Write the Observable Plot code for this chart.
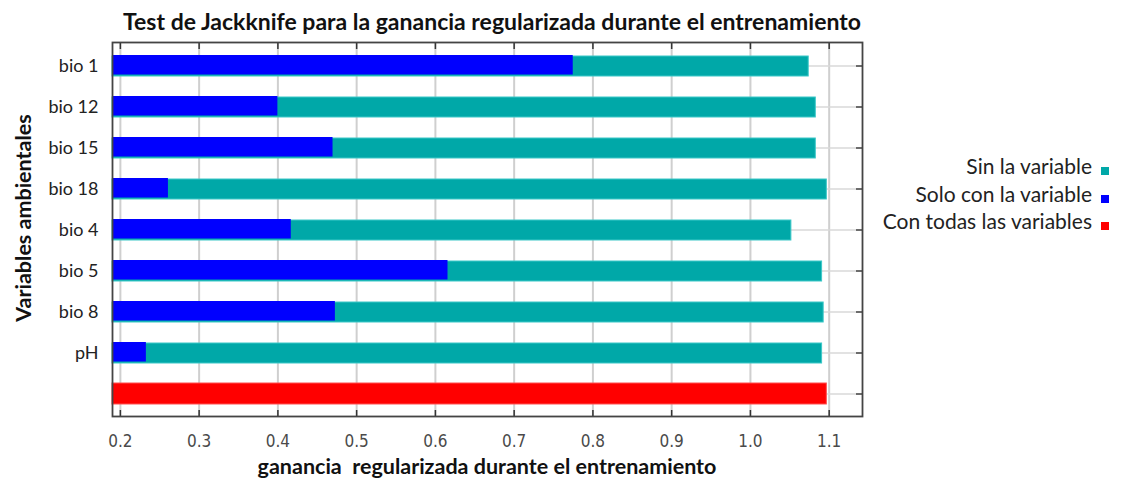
<!DOCTYPE html>
<html>
<head>
<meta charset="utf-8">
<script src="https://cdn.jsdelivr.net/npm/d3@7"></script>
<script src="https://cdn.jsdelivr.net/npm/@observablehq/plot@0.6"></script>
<style>
  html, body { margin: 0; padding: 0; background: #fff; }
  #wrap { position: relative; width: 1121px; height: 479px; overflow: hidden; font-family: Lato, "Open Sans", sans-serif; }
  #chart { position: absolute; left: 0; top: 0; }
  .title { position: absolute; left: 0; width: 984px; top: 7px; text-align: center; font-weight: bold; font-size: 23px; color: #111; white-space: pre; }
  .xlabel { position: absolute; left: 112px; width: 750px; top: 453px; text-align: center; font-weight: bold; font-size: 21.5px; color: #111; white-space: pre; }
  .ylabel { position: absolute; left: 23px; top: 218px; transform: translate(-50%, -50%) rotate(-90deg); font-weight: bold; font-size: 21.5px; color: #111; white-space: pre; }
  .legend { position: absolute; right: 12px; top: 152px; font-size: 21px; color: #222; text-align: right; line-height: 27.5px; }
  .legend .sw { display: inline-block; width: 8px; height: 8px; margin-left: 9px; vertical-align: -1px; }
</style>
</head>
<body>
<div id="wrap">
  <div id="chart"></div>
  <div class="title" id="title"></div>
  <div class="xlabel" id="xlabel"></div>
  <div class="ylabel" id="ylabel"></div>
  <div class="legend" id="legend"></div>
</div>
<script>
// ---- data ----
const titleText = "Test de Jackknife para la ganancia regularizada durante el entrenamiento";
const xLabelText = "ganancia  regularizada durante el entrenamiento";
const yLabelText = "Variables ambientales";
const categories = ["bio 1", "bio 12", "bio 15", "bio 18", "bio 4", "bio 5", "bio 8", "pH"];
const withoutVariable = [1.074, 1.083, 1.083, 1.097, 1.052, 1.091, 1.093, 1.091];
const onlyVariable = [0.775, 0.400, 0.470, 0.261, 0.417, 0.616, 0.473, 0.233];
const allVariablesKey = "all";
const allVariablesValue = 1.097;
const xTicks = [0.2, 0.3, 0.4, 0.5, 0.6, 0.7, 0.8, 0.9, 1.0, 1.1];
const seriesNames = ["Sin la variable", "Solo con la variable", "Con todas las variables"];
const seriesColors = ["#00a8a8", "#0000ff", "#ff0000"];
const xDomain = [0.19, 1.1423];

// ---- tables ----
const rowsWithout = categories.map((c, i) => ({cat: c, v: withoutVariable[i]}));
const rowsOnly = categories.map((c, i) => ({cat: c, v: onlyVariable[i]}));
const rowsAll = [{cat: allVariablesKey, v: allVariablesValue}];
const yDomain = [...categories, allVariablesKey];

const plot = Plot.plot({
  width: 1121,
  height: 479,
  marginTop: 42,
  marginBottom: 63,
  marginLeft: 112,
  marginRight: 259,
  style: {background: "transparent", overflow: "visible"},
  x: {domain: xDomain},
  y: {domain: yDomain, paddingInner: 0.5, paddingOuter: 0.24},
  marks: [
    Plot.ruleX(xTicks, {stroke: "#cfcfcf", strokeWidth: 2}),
    Plot.ruleY(yDomain, {y: d => d, stroke: "#d8d8d8", strokeWidth: 1.5}),
    Plot.barX(rowsWithout, {y: "cat", x1: xDomain[0], x2: "v", fill: seriesColors[0], stroke: "#3cc8c8", strokeWidth: 1, insetTop: 1}),
    Plot.barX(rowsOnly, {y: "cat", x1: xDomain[0], x2: "v", fill: seriesColors[1], insetBottom: 1.5}),
    Plot.barX(rowsAll, {y: "cat", x1: xDomain[0], x2: "v", fill: seriesColors[2], stroke: "#ff5050", strokeWidth: 1}),
    Plot.axisX(xTicks, {anchor: "bottom", tickSize: -6, tickPadding: 24, tickFormat: d3.format(".1f"),
      fontSize: 17, fill: "#4a4a4a", stroke: "#333", strokeWidth: 1.5, label: null,
      fontFamily: "'Liberation Sans Narrow', 'DejaVu Sans Condensed', sans-serif"}),
    Plot.axisX(xTicks, {anchor: "top", tickSize: -6, tickFormat: () => "", stroke: "#333", strokeWidth: 1.5, label: null}),
    Plot.axisY({anchor: "left", tickSize: 0, tickPadding: 14, fontSize: 18, fill: "#222",
      fontFamily: "Lato, 'Open Sans', sans-serif",
      tickFormat: d => d === allVariablesKey ? "" : d, label: null}),
    Plot.axisY({anchor: "right", tickSize: -7, tickFormat: () => "", stroke: "#444", strokeWidth: 1.5, label: null}),
    Plot.frame({stroke: "#444", strokeWidth: 1.8})
  ]
});
document.getElementById("chart").appendChild(plot);

document.getElementById("title").textContent = titleText;
document.getElementById("xlabel").textContent = xLabelText;
document.getElementById("ylabel").textContent = yLabelText;
const legend = document.getElementById("legend");
seriesNames.forEach((n, i) => {
  const row = document.createElement("div");
  const t = document.createElement("span");
  t.textContent = n;
  const sw = document.createElement("span");
  sw.className = "sw";
  sw.style.background = seriesColors[i];
  row.appendChild(t);
  row.appendChild(sw);
  legend.appendChild(row);
});
</script>
</body>
</html>
